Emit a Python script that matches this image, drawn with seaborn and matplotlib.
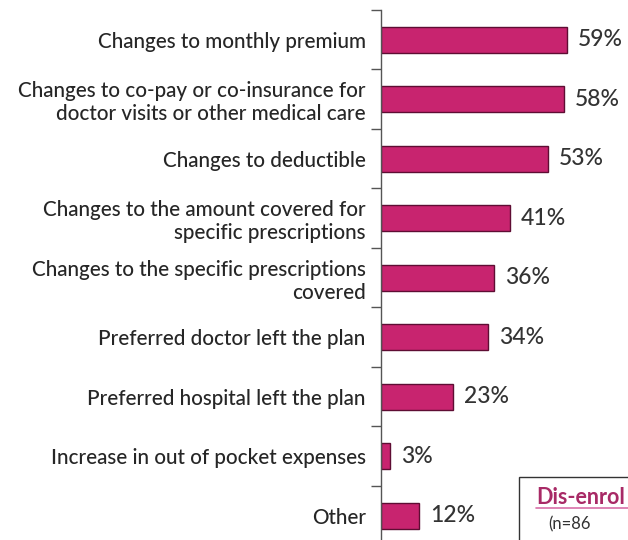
import matplotlib
matplotlib.use("Agg")
import matplotlib.pyplot as plt
import seaborn as sns
import pandas as pd
from matplotlib.patches import Rectangle
from matplotlib.lines import Line2D

categories = [
    "Changes to monthly premium",
    "Changes to co-pay or co-insurance for\ndoctor visits or other medical care",
    "Changes to deductible",
    "Changes to the amount covered for\nspecific prescriptions",
    "Changes to the specific prescriptions\ncovered",
    "Preferred doctor left the plan",
    "Preferred hospital left the plan",
    "Increase in out of pocket expenses",
    "Other",
]
values = [59, 58, 53, 41, 36, 34, 23, 3, 12]
value_labels = ["59%", "58%", "53%", "41%", "36%", "34%", "23%", "3%", "12%"]
legend_title = "Dis-enrol"
legend_n = "(n=86"

sns.set_theme(style="white")
plt.rcParams["font.family"] = ["Lato", "DejaVu Sans"]

df = pd.DataFrame({"cat": categories, "val": values})

W, H = 628, 540
fig = plt.figure(figsize=(W / 100, H / 100), dpi=100)
ax_left = 381 / W
ax_w = 220.5 / W
ax_top = 10
ax_bottom = 545.5
ax = fig.add_axes([ax_left, 1 - ax_bottom / H, ax_w, (ax_bottom - ax_top) / H])

sns.barplot(data=df, y="cat", x="val", orient="h", ax=ax, color="#c8246f",
            width=0.44, edgecolor="#5e0d33", linewidth=1.0, saturation=1)
ax.set_xlim(0, 70)
ax.set_ylim(len(categories) - 0.5, -0.5)
ax.set_xlabel("")
ax.set_ylabel("")
ax.set_xticks([])
for s in ["top", "right", "bottom"]:
    ax.spines[s].set_visible(False)
ax.spines["left"].set_color("#555555")
ax.spines["left"].set_linewidth(1.0)

ax.set_yticks(range(len(categories)))
ax.set_yticklabels(categories, fontsize=14.9, color="#262626", fontweight="medium",
                   linespacing=1.2)
ax.tick_params(axis="y", which="major", length=0, pad=11)
ax.set_yticks([i - 0.5 for i in range(len(categories) + 1)], minor=True)
ax.tick_params(axis="y", which="minor", length=7, width=1, color="#555555", left=True)

for i, (v, lab) in enumerate(zip(values, value_labels)):
    ax.text(v + 3.5, i, lab, va="center", ha="left", fontsize=16.5, color="#333333",
            fontweight="medium")

# partial legend box at bottom right (cropped in the reference)
fig.patches.append(Rectangle((519 / W, 1 - 560 / H), 200 / W, 83 / H, transform=fig.transFigure,
                             fill=False, edgecolor="#333333", linewidth=1.0))
fig.text(536 / W, 1 - 497 / H, legend_title, ha="left", va="center", fontsize=15.5,
         fontweight="bold", color="#a82a66")
fig.add_artist(Line2D([536 / W, 700 / W], [1 - 508 / H, 1 - 508 / H],
                      transform=fig.transFigure, color="#d870a8", linewidth=1.2))
fig.text(548 / W, 1 - 524 / H, legend_n, ha="left", va="center", fontsize=12, color="#333333")

fig.savefig("out.png", dpi=100)
